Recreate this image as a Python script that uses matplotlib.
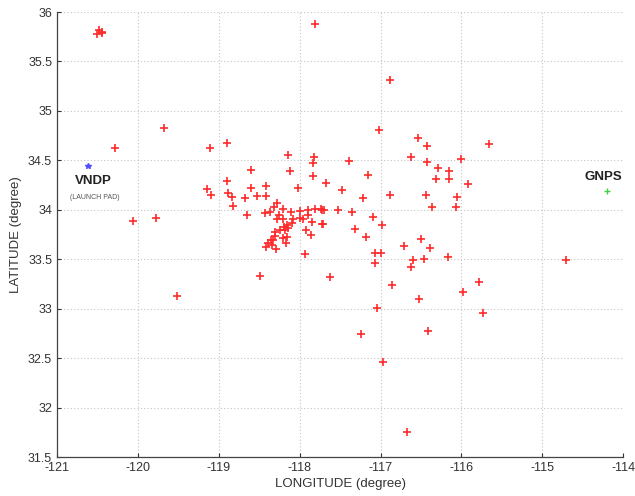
import matplotlib
matplotlib.use("Agg")
import matplotlib.pyplot as plt

plt.rcParams['font.family'] = ['Liberation Sans', 'DejaVu Sans']

# Earthquake / station locations (longitude, latitude)
lon = [
    -120.48, -120.45, -120.50, -120.44, -117.81, -116.88, -119.68, -120.28,
    -119.11, -118.90, -118.14, -117.82, -117.83, -118.12, -117.83, -118.60,
    -118.90, -118.02, -117.67, -119.15, -119.10, -118.89, -118.84, -118.60,
    -118.68, -118.53, -118.42, -118.42, -118.82, -118.65, -120.06, -119.78,
    -119.52, -118.49, -117.63, -117.93,
    -117.02, -116.54, -116.43, -115.66, -117.39, -116.62, -116.43, -116.00,
    -116.29, -116.15, -116.31, -116.15, -117.16, -115.92, -117.48, -117.22,
    -116.88, -116.44, -116.06, -116.36, -116.07, -117.72, -117.53, -117.35,
    -117.72, -117.32, -117.09, -116.98, -117.18, -116.50,
    -116.71, -116.39, -117.07, -116.99, -117.07, -116.60, -116.46, -116.62,
    -116.17, -114.71, -116.86, -115.98, -115.78, -116.53, -117.04, -115.73,
    -117.24, -116.41, -116.97, -116.67,
    -118.28, -118.43, -118.37, -118.32, -118.21, -118.11, -118.00, -117.90,
    -117.81, -117.74, -117.70, -118.28, -118.21, -118.08, -118.00, -117.96,
    -117.90, -117.85, -117.71, -118.16, -118.14, -118.18, -118.24, -118.31,
    -118.31, -118.33, -118.39, -118.41, -118.34, -118.29, -118.21, -118.16,
    -118.17, -117.92, -117.86, -118.10, -118.25, -118.19, -118.36,
]
lat = [
    35.82, 35.79, 35.78, 35.80, 35.88, 35.31, 34.83, 34.62,
    34.62, 34.68, 34.55, 34.53, 34.47, 34.39, 34.34, 34.40,
    34.29, 34.22, 34.27, 34.21, 34.15, 34.17, 34.13, 34.22,
    34.12, 34.14, 34.24, 34.14, 34.04, 33.95, 33.89, 33.92,
    33.13, 33.33, 33.32, 33.55,
    34.81, 34.73, 34.65, 34.67, 34.49, 34.53, 34.48, 34.51,
    34.42, 34.39, 34.31, 34.31, 34.35, 34.26, 34.20, 34.12,
    34.15, 34.15, 34.13, 34.03, 34.03, 34.00, 34.00, 33.98,
    33.86, 33.81, 33.93, 33.85, 33.72, 33.70,
    33.63, 33.61, 33.56, 33.56, 33.46, 33.49, 33.50, 33.42,
    33.52, 33.49, 33.24, 33.17, 33.27, 33.10, 33.01, 32.96,
    32.74, 32.77, 32.46, 31.75,
    34.07, 33.97, 33.98, 34.03, 34.01, 33.98, 33.99, 34.00,
    34.01, 34.01, 34.00, 33.91, 33.91, 33.91, 33.92, 33.91,
    33.95, 33.88, 33.86, 33.85, 33.82, 33.80, 33.80, 33.78,
    33.73, 33.69, 33.66, 33.62, 33.64, 33.60, 33.71, 33.72,
    33.66, 33.80, 33.74, 33.87, 33.95, 33.83, 33.69,
]

vndp_lon, vndp_lat = [-120.62], [34.44]
gnps_lon, gnps_lat = [-114.20], [34.19]

xticks = [-121, -120, -119, -118, -117, -116, -115, -114]
yticks = [31.5, 32, 32.5, 33, 33.5, 34, 34.5, 35, 35.5, 36]

fig = plt.figure(figsize=(6.35, 4.96), dpi=100)
ax = fig.add_axes([0.0898, 0.0786, 0.8915, 0.8972])

ax.plot(lon, lat, linestyle='none', marker='+', color='#ff2a2a',
        markersize=6, markeredgewidth=1.2)
ax.plot(vndp_lon, vndp_lat, linestyle='none', marker='*', color='#5050ff',
        markersize=4)
ax.plot(gnps_lon, gnps_lat, linestyle='none', marker='+', color='#40d040',
        markersize=5, markeredgewidth=1.0)

ax.text(-120.55, 34.29, 'VNDP', fontsize=9.5, fontweight='bold',
        ha='center', va='center', color='#222222')
ax.text(-120.53, 34.12, '(LAUNCH PAD)', fontsize=5, ha='center',
        va='center', color='#555555')
ax.text(-114.25, 34.33, 'GNPS', fontsize=9.5, fontweight='bold',
        ha='center', va='center', color='#222222')

ax.set_xlim(-121, -114)
ax.set_ylim(31.5, 36)
ax.set_xticks(xticks)
ax.set_yticks(yticks)
ax.set_xticklabels([str(t) for t in xticks])
ax.set_yticklabels([('%g' % t) for t in yticks])
ax.tick_params(labelsize=9, colors='#333333', length=3, direction='in')

ax.grid(True, linestyle=(0, (1, 2)), color='#c4c4c4', linewidth=0.8)
ax.set_axisbelow(True)
for s in ['top', 'right']:
    ax.spines[s].set_visible(False)
for s in ['left', 'bottom']:
    ax.spines[s].set_color('#444444')
    ax.spines[s].set_linewidth(0.9)

ax.set_xlabel('LONGITUDE (degree)', fontsize=9.5, color='#333333', labelpad=3)
ax.set_ylabel('LATITUDE (degree)', fontsize=9.5, color='#333333', labelpad=4)

fig.savefig('out.png', dpi=100, facecolor='white')
